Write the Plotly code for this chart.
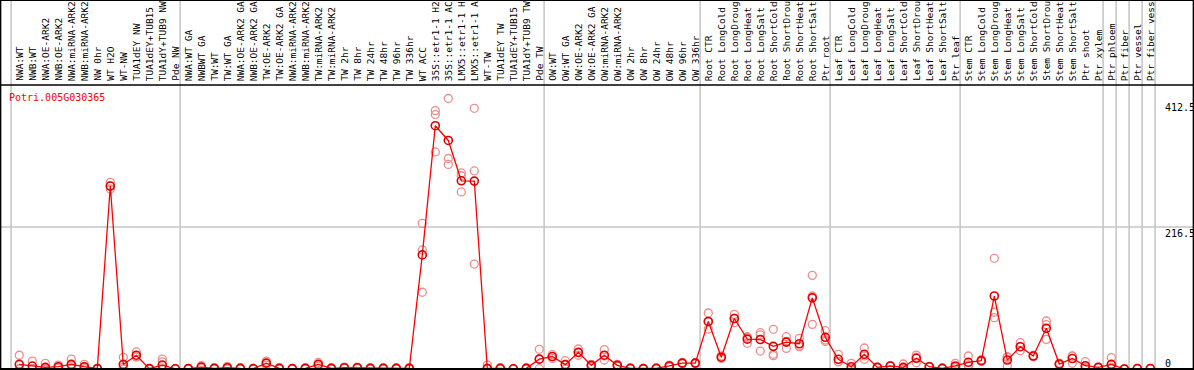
import plotly.graph_objects as go

gene = "Potri.005G030365"

categories = [
    "NWA:WT", "NWB:WT", "NWA:OE-ARK2", "NWB:OE-ARK2", "NWA:miRNA-ARK2", "NWB:miRNA-ARK2",
    "NW 0hr", "WT H2O", "WT-NW", "TUA1dEY NW", "TUA1dEY+TUB15 NW", "TUA1dY+TUB9 NW", "Pde NW",
    "NWA:WT GA", "NWBWT GA", "TW:WT", "TW:WT GA", "NWA:OE-ARK2 GA", "NWB:OE-ARK2 GA",
    "TW:OE-ARK2", "TW:OE-ARK2 GA", "NWA:miRNA-ARK2", "NWB:miRNA-ARK2", "TW:miRNA-ARK2",
    "TW:miRNA-ARK2", "TW 2hr", "TW 8hr", "TW 24hr", "TW 48hr", "TW 96hr", "TW 336hr",
    "WT ACC", "35S::etr1-1 H2O", "35S::etr1-1 ACC", "LMX5::etr1-1 H2O", "LMX5::etr1-1 ACC",
    "WT-TW", "TUA1dEY TW", "TUA1dEY+TUB15 TW", "TUA1dY+TUB9 TW", "Pde TW",
    "OW:WT", "OW:WT GA", "OW:OE-ARK2", "OW:OE-ARK2 GA", "OW:miRNA-ARK2", "OW:miRNA-ARK2",
    "OW 2hr", "OW 8hr", "OW 24hr", "OW 48hr", "OW 96hr", "OW 336hr",
    "Root CTR", "Root LongCold", "Root LongDrought", "Root LongHeat", "Root LongSalt",
    "Root ShortCold", "Root ShortDrought", "Root ShortHeat", "Root ShortSalt", "Ptr root",
    "Leaf CTR", "Leaf LongCold", "Leaf LongDrought", "Leaf LongHeat", "Leaf LongSalt",
    "Leaf ShortCold", "Leaf ShortDrought", "Leaf ShortHeat", "Leaf ShortSalt", "Ptr leaf",
    "Stem CTR", "Stem LongCold", "Stem LongDrought", "Stem LongHeat", "Stem LongSalt",
    "Stem ShortCold", "Stem ShortDrought", "Stem ShortHeat", "Stem ShortSalt",
    "Ptr shoot", "Ptr xylem", "Ptr phloem", "Ptr fiber", "Ptr vessel", "Ptr fiber vessel",
]

mean_values = [
    7, 4.5, 2.5, 3.5, 7, 3.5, 0.5, 279, 7, 21, 0.5, 6, 0.3,
    0.5, 3, 1, 2, 1, 0.5, 9, 1, 0.5, 1, 7, 1, 2, 2, 1, 1, 1, 1,
    174, 371, 348.5, 287, 286.5, 1, 1, 0.3, 1, 15,
    19, 6.6, 25.4, 5.6, 21, 5.6, 1, 0.5, 1, 4.6, 9, 9,
    72.5, 18, 77, 45.5, 45, 34.5, 41, 38.5, 108.5, 48.3,
    14.8, 3.5, 22.4, 2.5, 4.6, 2.5, 16.3, 3.5, 1, 4.6,
    10.2, 12.7, 111.3, 13.7, 34, 19.8, 62, 7.6, 16,
    5, 2.5, 7.1, 0, 0.7, 0.7,
]

replicates = [
    [21, 0.5, 0], [12, 1, 0.5], [8.7, 0, 0], [6, 3, 1.5], [15, 5, 1], [7, 3, 0.5],
    [1, 0.5, 0], [284.7, 279, 274.5], [17.8, 3, 0], [26, 19, 18], [1, 0.5, 0],
    [15, 11, 0], [0.5, 0.3, 0],
    [1, 0.5, 0], [5, 3, 1], [2, 1, 0], [4, 2, 0], [2, 1, 0], [1, 0.5, 0],
    [12, 9, 6], [2, 1, 0], [1, 0.5, 0], [2, 1, 0], [10, 7, 4], [2, 1, 0],
    [3, 2, 1], [3, 2, 1], [2, 1, 0], [2, 1, 0], [2, 1, 0], [2, 1, 0],
    [222, 181.5, 117], [394, 388, 331], [412.5, 321, 312], [299, 294.7, 270],
    [397.5, 302, 160], [6, 0, 0], [2, 1, 0], [0.5, 0, 0], [2, 1, 0], [30, 15, 0.5],
    [21.8, 19, 16], [12.7, 7, 0], [30.5, 25, 21], [7, 6, 4], [29.5, 20, 13.7],
    [7, 6, 4], [1.5, 1, 0.5], [1, 0.5, 0], [1.5, 1, 0.5], [6, 5, 3], [10, 9, 8],
    [10, 9, 8],
    [85.4, 72, 61], [20, 18, 16], [83.4, 77, 70.6], [49.3, 48, 39.2], [55.4, 52, 27.4],
    [60.5, 22.4, 20.3], [49.3, 42, 31.5], [46.8, 35, 34], [142.8, 111.3, 68.1],
    [58.4, 44.2, 42],
    [22.4, 11.1, 11], [8.7, 1, 0.8], [32, 20, 14.8], [3, 2.5, 2], [5, 4.6, 4.2],
    [7.6, 0, 0], [21.3, 18, 9.6], [4, 3.5, 3], [1.5, 1, 0.5], [8.7, 3, 2],
    [19.8, 6, 4.6], [14, 12.7, 11.4], [168.8, 86.5, 78.2], [17.8, 18.7, 4.6],
    [40.1, 34, 28], [21, 19.8, 18.6], [73.2, 67.6, 45.2], [9, 7.6, 6.2],
    [19.8, 19.5, 8.7],
    [11.1, 3, 1], [3, 2.5, 2], [17.3, 3, 1], [0, 0, 0], [1, 0.7, 0.4], [1, 0.7, 0.4],
]

# last column index (1-based) of each block; a separator is drawn after it
group_ends = [0, 13, 41, 53, 63, 73, 84, 85, 86, 87, 88]

y_tick_values = [0, 216.5, 412.5]
y_tick_labels = ["0", "216.5", "412.5"]

# ---------------------------------------------------------------- layout
W, H = 1194, 370
x0_px, step_px = 19.3, 13.0          # pixel position of column 1 and spacing
y_bottom_px, y_top_px = 369, 85      # plot area in pixels
px_per_unit = 0.6558

x_lo = 1 - x0_px / step_px
x_hi = 1 + (W - x0_px) / step_px
y_hi = (y_bottom_px - y_top_px) / px_per_unit

def ypaper(px):
    return (H - px) / H

xs = list(range(1, len(categories) + 1))

rep_x, rep_y = [], []
for i, reps in enumerate(replicates):
    for r in reps:
        rep_x.append(i + 1)
        rep_y.append(r)

fig = go.Figure()
fig.add_trace(go.Scatter(
    x=rep_x, y=rep_y, mode="markers",
    marker=dict(symbol="circle-open", size=8, color="#f08c8c", line=dict(width=1.3)),
    hoverinfo="skip", showlegend=False, cliponaxis=True,
))
fig.add_trace(go.Scatter(
    x=xs, y=mean_values, mode="lines+markers",
    line=dict(color="#ff0000", width=1.3),
    marker=dict(symbol="circle-open", size=8, color="#e00000", line=dict(width=1.6)),
    text=categories, showlegend=False, cliponaxis=True,
))

shapes = []
grid_col = "#c4c4c4"
for g in group_ends:
    xv = g + 0.37
    shapes.append(dict(type="line", xref="x", yref="paper", x0=xv, x1=xv,
                       y0=ypaper(y_bottom_px), y1=1, line=dict(color=grid_col, width=1.5),
                       layer="below"))
for v in y_tick_values[1:2]:
    shapes.append(dict(type="line", xref="paper", yref="y", x0=0, x1=1, y0=v, y1=v,
                       line=dict(color=grid_col, width=1.5), layer="below"))
shapes.append(dict(type="line", xref="paper", yref="paper", x0=0, x1=1,
                   y0=ypaper(y_top_px), y1=ypaper(y_top_px), line=dict(color="black", width=1.5)))
shapes.append(dict(type="line", xref="paper", yref="paper", x0=0, x1=1,
                   y0=ypaper(y_bottom_px), y1=ypaper(y_bottom_px), line=dict(color="black", width=2)))
shapes.append(dict(type="rect", xref="paper", yref="paper", x0=0.0005, x1=0.9995, y0=0.001, y1=0.999,
                   line=dict(color="black", width=1.5)))

annotations = []
mono = "DejaVu Sans Mono"
for i, c in enumerate(categories):
    annotations.append(dict(
        x=i + 1, xref="x", y=ypaper(83), yref="paper", text=c, textangle=-90,
        showarrow=False, xanchor="center", yanchor="bottom",
        font=dict(family=mono, size=9.5, color="black"),
    ))
annotations.append(dict(
    x=7 / W, xref="paper", y=ypaper(98), yref="paper", text=gene, showarrow=False,
    xanchor="left", yanchor="middle", font=dict(family=mono, size=10, color="#ff0000"),
))
label_px = {0: 363, 216.5: 233, 412.5: 107}
for v, t in zip(y_tick_values, y_tick_labels):
    annotations.append(dict(
        x=1163 / W, xref="paper", y=ypaper(label_px[v]), yref="paper", text=t,
        showarrow=False, xanchor="left", yanchor="middle",
        font=dict(family=mono, size=10, color="black"),
    ))

fig.update_layout(
    width=W, height=H, margin=dict(l=0, r=0, t=0, b=0),
    paper_bgcolor="white", plot_bgcolor="white",
    xaxis=dict(range=[x_lo, x_hi], visible=False, fixedrange=True),
    yaxis=dict(range=[0, y_hi], visible=False, fixedrange=True,
               domain=[ypaper(y_bottom_px), ypaper(y_top_px)]),
    shapes=shapes, annotations=annotations,
)

fig.write_html("out.html", config={"displayModeBar": False},
               post_script="document.body.style.margin='0';document.body.style.overflow='hidden';")
